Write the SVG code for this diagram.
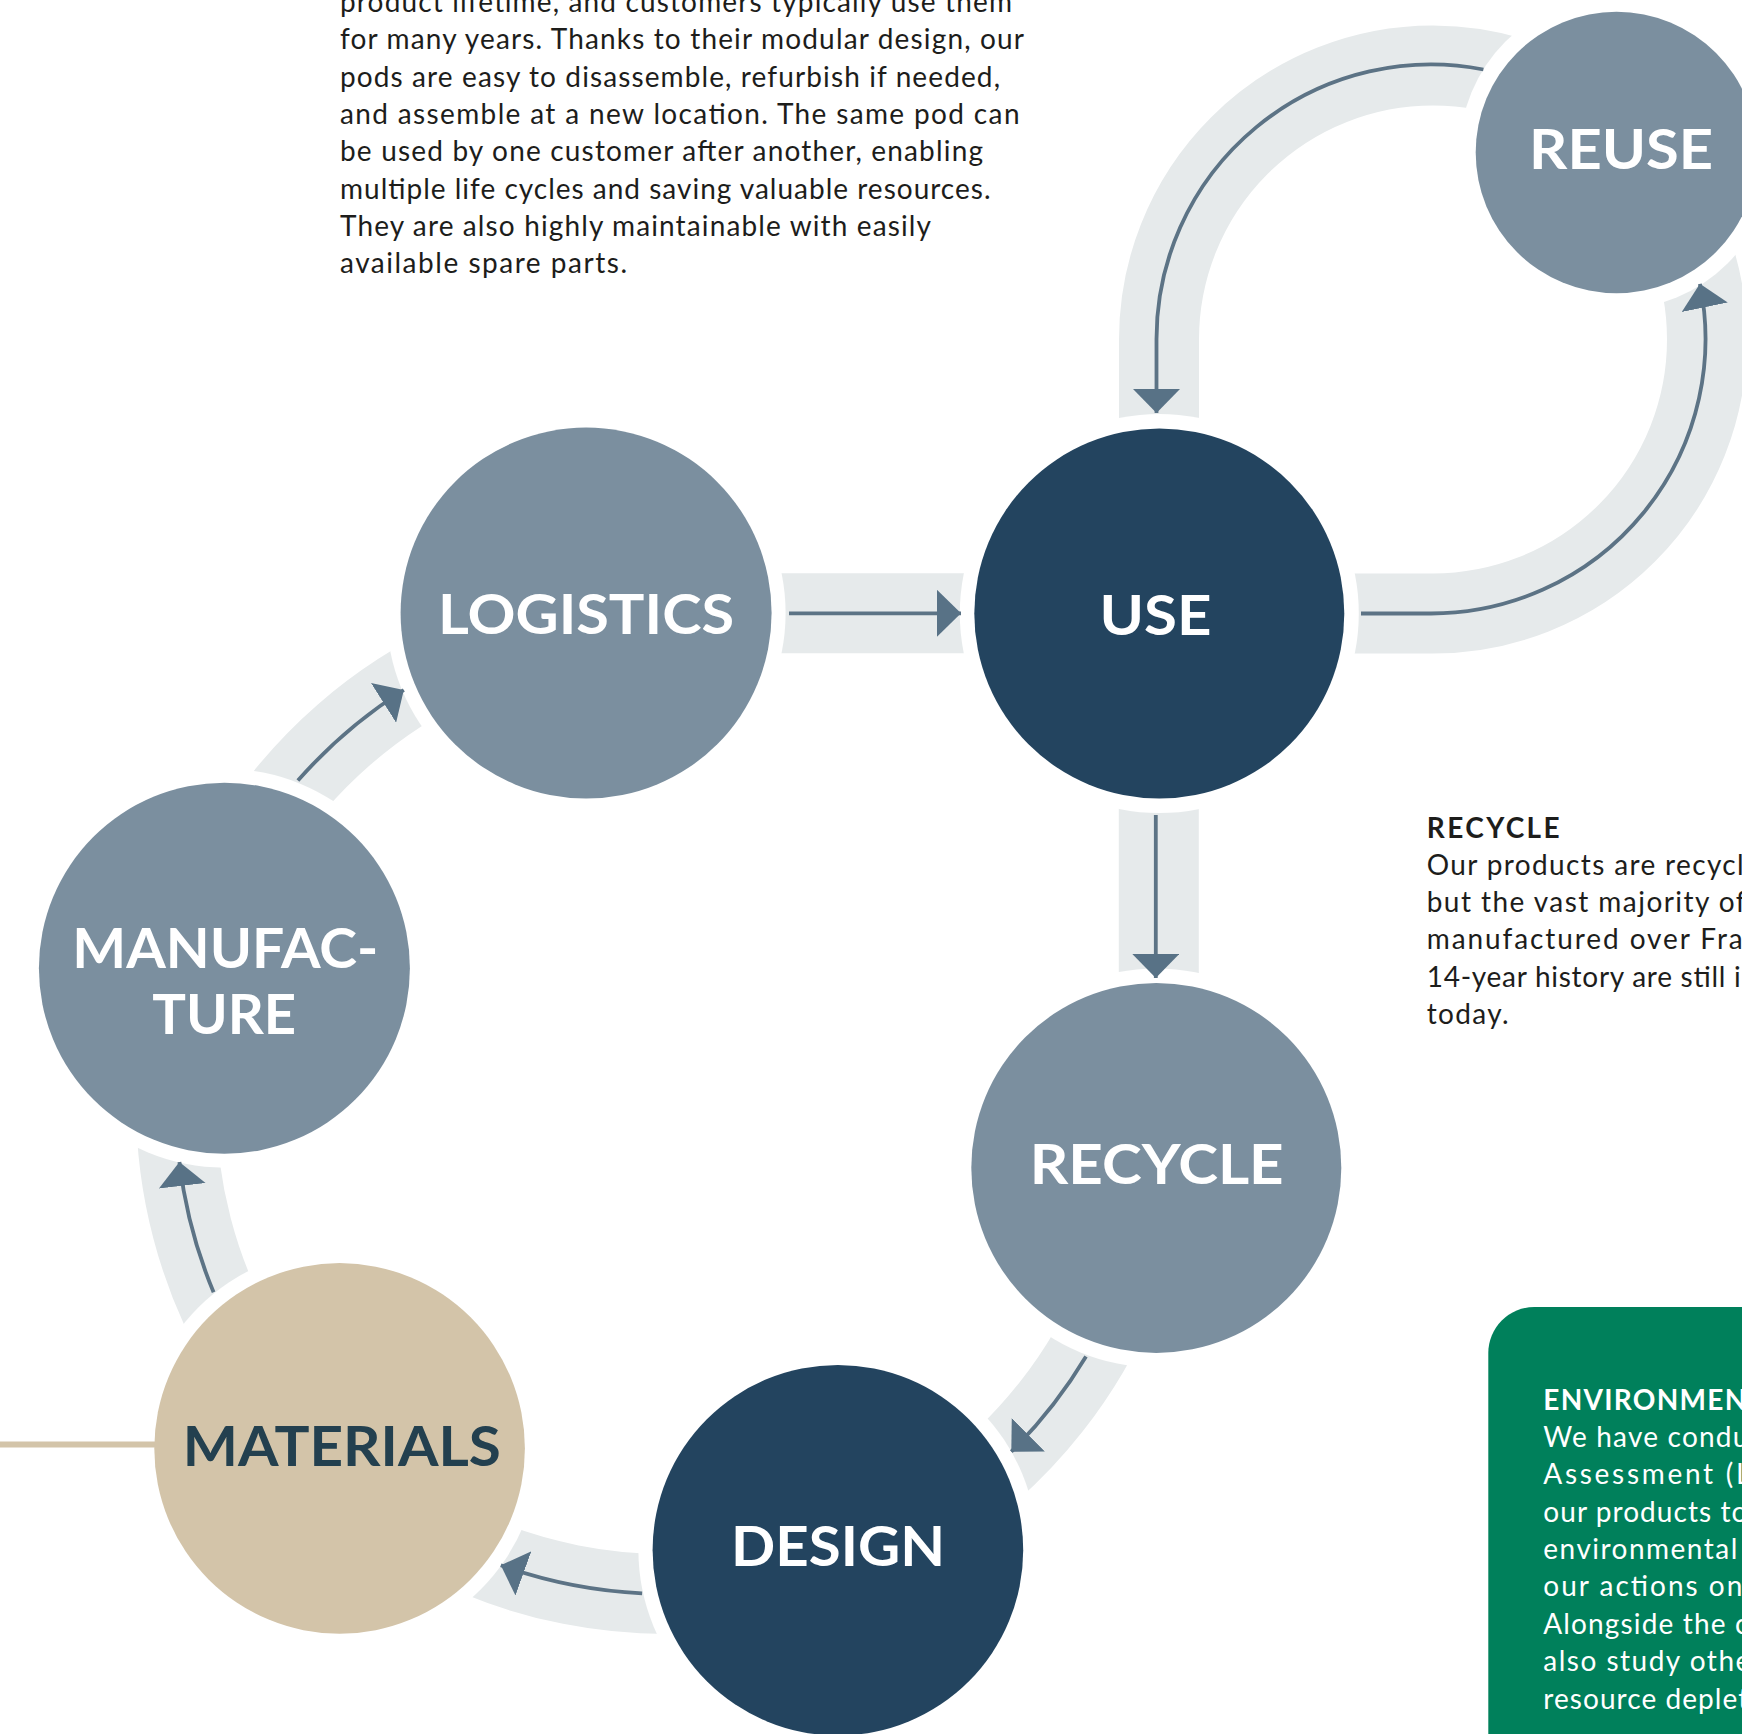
<svg xmlns="http://www.w3.org/2000/svg" width="1742" height="1734" viewBox="0 0 1742 1734">
<style>
.band{fill:none;stroke:#e6eaeb;stroke-width:80}
.flow{fill:none;stroke:#5c7385;stroke-width:3.8;marker-end:url(#ah)}
.lbl{font-family:Lato,"Liberation Sans",sans-serif;font-weight:700;font-size:56px;fill:#ffffff;text-anchor:middle}
.body{font-family:Lato,"Liberation Sans",sans-serif;font-size:28px;fill:#1d1d1b}
.head{font-family:Lato,"Liberation Sans",sans-serif;font-size:28px;font-weight:700;fill:#1d1d1b}
.wbody{font-family:Lato,"Liberation Sans",sans-serif;font-size:28px;fill:#ffffff}
.whead{font-family:Lato,"Liberation Sans",sans-serif;font-size:28px;font-weight:700;fill:#ffffff}
.grey{fill:#7b8f9f}
.navy{fill:#23445f}
.tan{fill:#d3c4a9}
</style>
<defs>
<marker id="ah" viewBox="0 0 24 47" refX="24" refY="23.5" markerWidth="24" markerHeight="47" markerUnits="userSpaceOnUse" orient="auto">
<path d="M0,0 L24,23.5 L0,47 Z" fill="#587286"/>
</marker>
<mask id="halo" maskUnits="userSpaceOnUse" x="0" y="0" width="1742" height="1734">
<rect x="0" y="0" width="1742" height="1734" fill="#fff"/>
<g fill="#000">
<circle cx="586.1" cy="613.1" r="199.5"/>
<circle cx="1159.3" cy="613.5" r="199.5"/>
<circle cx="1616.5" cy="152.5" r="157"/>
<circle cx="224.4" cy="968.2" r="199.5"/>
<circle cx="339.6" cy="1448.4" r="199.5"/>
<circle cx="837.9" cy="1550.2" r="199.5"/>
<circle cx="1156.3" cy="1167.9" r="199.5"/>
</g>
</mask>
</defs>
<rect x="0" y="0" width="1742" height="1734" fill="#ffffff"/>

<g id="text-reuse">
<text class="body" x="340" y="12" textLength="672" lengthAdjust="spacing">product lifetime, and customers typically use them</text>
<text class="body" x="340" y="49.35" textLength="684" lengthAdjust="spacing">for many years. Thanks to their modular design, our</text>
<text class="body" x="340" y="86.7" textLength="660" lengthAdjust="spacing">pods are easy to disassemble, refurbish if needed,</text>
<text class="body" x="340" y="124.05" textLength="679.5" lengthAdjust="spacing">and assemble at a new location. The same pod can</text>
<text class="body" x="340" y="161.4" textLength="643" lengthAdjust="spacing">be used by one customer after another, enabling</text>
<text class="body" x="340" y="198.75" textLength="650.5" lengthAdjust="spacing">multiple life cycles and saving valuable resources.</text>
<text class="body" x="340" y="236.1" textLength="591" lengthAdjust="spacing">They are also highly maintainable with easily</text>
<text class="body" x="340" y="273.45" textLength="287" lengthAdjust="spacing">available spare parts.</text>
</g>

<g id="text-recycle">
<text class="head" x="1426.7" y="838" textLength="133" lengthAdjust="spacing">RECYCLE</text>
<text class="body" x="1426.7" y="874.7" textLength="317" lengthAdjust="spacing">Our products are recycl</text>
<text class="body" x="1426.7" y="912" textLength="319" lengthAdjust="spacing">but the vast majority of</text>
<text class="body" x="1426.7" y="949.3" textLength="316" lengthAdjust="spacing">manufactured over Fra</text>
<text class="body" x="1426.7" y="986.6" textLength="314" lengthAdjust="spacing">14-year history are still i</text>
<text class="body" x="1426.7" y="1023.9" textLength="82" lengthAdjust="spacing">today.</text>
</g>

<g id="env-box">
<rect x="1488.3" y="1307" width="400" height="500" rx="46" fill="#00805b"/>
<text class="whead" x="1543.3" y="1410" textLength="203" lengthAdjust="spacing">ENVIRONMEN</text>
<text class="wbody" x="1543.3" y="1446.7" textLength="205" lengthAdjust="spacing">We have condu</text>
<text class="wbody" x="1543.3" y="1484.1" textLength="207" lengthAdjust="spacing">Assessment (L</text>
<text class="wbody" x="1543.3" y="1521.5" textLength="204" lengthAdjust="spacing">our products to</text>
<text class="wbody" x="1543.3" y="1558.9" textLength="194" lengthAdjust="spacing">environmental</text>
<text class="wbody" x="1543.3" y="1596.3" textLength="199" lengthAdjust="spacing">our actions on</text>
<text class="wbody" x="1543.3" y="1633.7" textLength="205" lengthAdjust="spacing">Alongside the c</text>
<text class="wbody" x="1543.3" y="1671.1" textLength="207" lengthAdjust="spacing">also study othe</text>
<text class="wbody" x="1543.3" y="1708.5" textLength="205" lengthAdjust="spacing">resource deplet</text>
</g>

<g id="connectors">
<g mask="url(#halo)">
<path class="band" d="M586,613.3 L1159,613.3"/>
<path class="band" d="M1158.8,613.5 L1158.8,1168"/>
<path class="band" d="M1159,613.5 L1433,613.5 A274 274 0 1 0 1159,339.5 L1159,613.5"/>
<path class="band" d="M1151.9,1167.1 A490 490 0 0 1 842.4,1561.1"/>
<path class="band" d="M842.4,1561.1 A490 490 0 0 1 328.7,1459.4"/>
<path class="band" d="M328.7,1459.4 A490 490 0 0 1 197.7,959.9"/>
<path class="band" d="M197.7,959.9 A490 490 0 0 1 587.3,620.4"/>
</g>
<path class="flow" d="M789,613.3 L961,613.3"/>
<path class="flow" d="M1155.8,815 L1155.8,978"/>
<path class="flow" d="M1361,613.5 L1431,613.5 A274.5 274.5 0 0 0 1699.9,283.8"/>
<path class="flow" d="M1483.4,69.5 A274.5 274.5 0 0 0 1156.5,339 L1156.5,413"/>
<path class="flow" d="M1086,1356.4 A490 490 0 0 1 1011.3,1451.7"/>
<path class="flow" d="M642.1,1593.4 A490 490 0 0 1 500.8,1565.3"/>
<path class="flow" d="M213.6,1292.3 A490 490 0 0 1 179.4,1162"/>
<path class="flow" d="M297.9,780.6 A490 490 0 0 1 403.8,690"/>
<line x1="0" y1="1444.5" x2="160" y2="1444.5" stroke="#d3c4a9" stroke-width="6"/>
</g>

<g id="node-logistics">
<circle class="grey" cx="586.1" cy="613.1" r="185.5"/>
<text class="lbl" x="586.1" y="634.3" textLength="296" lengthAdjust="spacingAndGlyphs">LOGISTICS</text>
</g>
<g id="node-use">
<circle class="navy" cx="1159.3" cy="613.5" r="185"/>
<text class="lbl" x="1155.5" y="634.8" textLength="112" lengthAdjust="spacingAndGlyphs">USE</text>
</g>
<g id="node-reuse">
<circle class="grey" cx="1616.5" cy="152.5" r="140.8"/>
<text class="lbl" x="1621.1" y="168.8" textLength="184" lengthAdjust="spacingAndGlyphs">REUSE</text>
</g>
<g id="node-manufacture">
<circle class="grey" cx="224.4" cy="968.2" r="185.5"/>
<text class="lbl" x="225.3" y="967.7" textLength="306" lengthAdjust="spacingAndGlyphs">MANUFAC-</text>
<text class="lbl" x="224.2" y="1034" textLength="144" lengthAdjust="spacingAndGlyphs">TURE</text>
</g>
<g id="node-materials">
<circle class="tan" cx="339.6" cy="1448.4" r="185.3"/>
<text class="lbl" x="341.8" y="1466" textLength="318" lengthAdjust="spacingAndGlyphs" style="fill:#23404f">MATERIALS</text>
</g>
<g id="node-design">
<circle class="navy" cx="837.9" cy="1550.2" r="185.3"/>
<text class="lbl" x="838" y="1566.2" textLength="214" lengthAdjust="spacingAndGlyphs">DESIGN</text>
</g>
<g id="node-recycle">
<circle class="grey" cx="1156.3" cy="1167.9" r="185"/>
<text class="lbl" x="1156.7" y="1183.7" textLength="254" lengthAdjust="spacingAndGlyphs">RECYCLE</text>
</g>
</svg>
